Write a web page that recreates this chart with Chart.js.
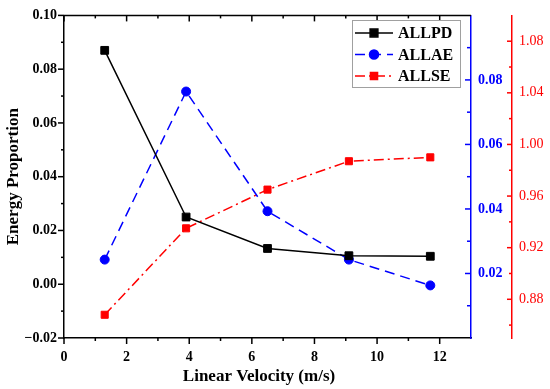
<!DOCTYPE html>
<html>
<head>
<meta charset="utf-8">
<script src="https://cdn.jsdelivr.net/npm/chart.js@4.4.0/dist/chart.umd.min.js"></script>
<style>
  html, body { margin: 0; padding: 0; background: #fff; }
</style>
</head>
<body>
<canvas id="chart" width="550" height="389"></canvas>
<script>
// data
const velocity = [1.3, 3.9, 6.5, 9.1, 11.7];
const allpd = [0.087, 0.025, 0.0133, 0.0106, 0.0104];
const allae = [0.0243, 0.0764, 0.0393, 0.0243, 0.0163];
const allse = [0.868, 0.935, 0.965, 0.987, 0.990];

// tick values
const xTicks = [0, 2, 4, 6, 8, 10, 12];
const xMinor = [1, 3, 5, 7, 9, 11];
const leftTicks = [-0.02, 0, 0.02, 0.04, 0.06, 0.08, 0.10];
const leftMinor = [-0.01, 0.01, 0.03, 0.05, 0.07, 0.09];
const blueTicks = [0.02, 0.04, 0.06, 0.08];
const blueMinor = [0.01, 0.03, 0.05, 0.07, 0.09];
const redTicks = [0.88, 0.92, 0.96, 1.00, 1.04, 1.08];
const redMinor = [0.86, 0.90, 0.94, 0.98, 1.02, 1.06];

const SERIF = '"Liberation Serif", "Times New Roman", serif';
const BLUE = '#0000ff';
const RED = '#ff0000';

function toPoints(ys) {
    return velocity.map((v, i) => ({ x: v, y: ys[i] }));
}

function fixTicks(values) {
    return scale => { scale.ticks = values.map(v => ({ value: v })); };
}

function tickLine(ctx, x1, y1, x2, y2) {
    ctx.beginPath();
    ctx.moveTo(x1, y1);
    ctx.lineTo(x2, y2);
    ctx.stroke();
}

// tick marks with major / minor lengths, drawn by hand
const frameTicks = {
    id: 'frameTicks',
    afterDraw(chart) {
        const ctx = chart.ctx;
        const area = chart.chartArea;
        const s = chart.scales;
        ctx.save();
        ctx.lineWidth = 1.5;

        // top border line
        ctx.strokeStyle = '#000';
        tickLine(ctx, area.left, area.top, area.right, area.top);

        // bottom (outward) + top (inward)
        xTicks.concat(xMinor).forEach(v => {
            const len = xTicks.includes(v) ? 6 : 3;
            const px = s.x.getPixelForValue(v);
            tickLine(ctx, px, area.bottom, px, area.bottom + len);
            tickLine(ctx, px, area.top, px, area.top + len);
        });

        // left axis, outward
        leftTicks.concat(leftMinor).forEach(v => {
            const len = leftTicks.includes(v) ? 6 : 3;
            const py = s.y.getPixelForValue(v);
            tickLine(ctx, area.left, py, area.left - len, py);
        });

        // blue axis, inward
        ctx.strokeStyle = BLUE;
        blueTicks.concat(blueMinor).forEach(v => {
            const len = blueTicks.includes(v) ? 6 : 4;
            const py = s.yB.getPixelForValue(v);
            tickLine(ctx, area.right, py, area.right - len, py);
        });

        // red axis, pointing left
        ctx.strokeStyle = RED;
        const rx = s.yR.left;
        redTicks.concat(redMinor).forEach(v => {
            const len = redTicks.includes(v) ? 5 : 3;
            const py = s.yR.getPixelForValue(v);
            tickLine(ctx, rx, py, rx - len, py);
        });
        ctx.restore();
    }
};

// legend box inside the plot, top right
const boxLegend = {
    id: 'boxLegend',
    afterDraw(chart) {
        const ctx = chart.ctx;
        ctx.save();
        ctx.fillStyle = '#fff';
        ctx.fillRect(352.5, 20.5, 108, 67);
        ctx.strokeStyle = '#a0a0a0';
        ctx.lineWidth = 1;
        ctx.strokeRect(352.5, 20.5, 108, 67);

        chart.data.datasets.forEach((ds, i) => {
            const y = 33 + i * 21.5;
            ctx.strokeStyle = ds.borderColor;
            ctx.lineWidth = 1.5;
            ctx.setLineDash(ds.borderDash || []);
            tickLine(ctx, 355, y, 393, y);
            ctx.setLineDash([]);
            ctx.fillStyle = ds.backgroundColor;
            Chart.helpers.drawPoint(ctx, {
                pointStyle: ds.pointStyle, radius: ds.pointRadius, rotation: 0, borderWidth: 1
            }, 374, y);
            ctx.fillStyle = '#000';
            ctx.font = 'bold 16px ' + SERIF;
            ctx.textBaseline = 'middle';
            ctx.fillText(ds.label, 398, y + 1);
        });
        ctx.restore();
    }
};

new Chart(document.getElementById('chart'), {
    type: 'line',
    data: {
        datasets: [{
            label: 'ALLPD',
            data: toPoints(allpd),
            yAxisID: 'y',
            borderColor: '#000',
            backgroundColor: '#000',
            borderWidth: 1.5,
            pointStyle: 'rect',
            pointRadius: 5.5,
            pointBorderWidth: 1
        }, {
            label: 'ALLAE',
            data: toPoints(allae),
            yAxisID: 'yB',
            borderColor: BLUE,
            backgroundColor: BLUE,
            borderWidth: 1.5,
            borderDash: [10, 6],
            pointStyle: 'circle',
            pointRadius: 4.5,
            pointBorderWidth: 1
        }, {
            label: 'ALLSE',
            data: toPoints(allse),
            yAxisID: 'yR',
            borderColor: RED,
            backgroundColor: RED,
            borderWidth: 1.5,
            borderDash: [10, 4, 2, 4],
            pointStyle: 'rect',
            pointRadius: 5,
            pointBorderWidth: 1
        }]
    },
    options: {
        responsive: false,
        animation: false,
        devicePixelRatio: 1,
        layout: { padding: { top: 10, left: 0, right: 0, bottom: 0 } },
        plugins: {
            legend: { display: false },
            tooltip: { enabled: false }
        },
        scales: {
            x: {
                type: 'linear',
                position: 'bottom',
                min: 0,
                max: 13,
                afterBuildTicks: fixTicks(xTicks),
                afterFit: scale => { scale.height = 51; },
                grid: { display: false, drawTicks: false },
                border: { display: true, color: '#000', width: 1.5 },
                ticks: {
                    color: '#000',
                    padding: 11,
                    font: { family: SERIF, size: 14, weight: 'bold' }
                },
                title: {
                    display: true,
                    text: 'Linear Velocity (m/s)    ',
                    color: '#000',
                    font: { family: SERIF, size: 17, weight: 'bold' },
                    padding: { top: 0, bottom: 2 }
                }
            },
            y: {
                position: 'left',
                min: -0.02,
                max: 0.10,
                afterBuildTicks: fixTicks(leftTicks),
                afterFit: scale => { scale.width = 64; },
                grid: { display: false, drawTicks: false },
                border: { display: true, color: '#000', width: 1.5 },
                ticks: {
                    color: '#000',
                    padding: 7,
                    font: { family: SERIF, size: 14, weight: 'bold' },
                    callback: v => (v < 0 ? '\u2212' : '') + Math.abs(v).toFixed(2)
                },
                title: {
                    display: true,
                    text: 'Energy Proportion',
                    color: '#000',
                    font: { family: SERIF, size: 17, weight: 'bold' },
                    padding: { top: 3, bottom: 0 }
                }
            },
            yB: {
                position: 'right',
                weight: 0,
                min: 0,
                max: 0.10,
                afterBuildTicks: fixTicks(blueTicks),
                afterFit: scale => { scale.width = 41; },
                grid: { display: false, drawTicks: false },
                border: { display: true, color: BLUE, width: 1.5 },
                ticks: {
                    color: BLUE,
                    padding: 7,
                    font: { family: SERIF, size: 14, weight: 'bold' },
                    callback: v => v.toFixed(2)
                }
            },
            yR: {
                position: 'right',
                weight: 1,
                min: 0.85,
                max: 1.10,
                afterBuildTicks: fixTicks(redTicks),
                afterFit: scale => { scale.width = 38; },
                grid: { display: false, drawTicks: false },
                border: { display: true, color: RED, width: 1.5 },
                ticks: {
                    color: RED,
                    padding: 7,
                    font: { family: SERIF, size: 14 },
                    callback: v => v.toFixed(2)
                }
            }
        }
    },
    plugins: [frameTicks, boxLegend]
});
</script>
</body>
</html>
